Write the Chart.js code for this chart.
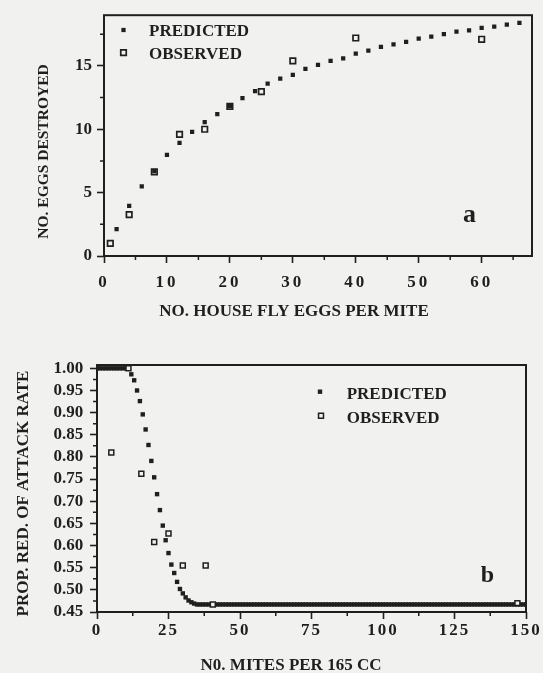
<!DOCTYPE html>
<html>
<head>
<meta charset="utf-8">
<title>Eggs destroyed and attack rate</title>
<script src="https://cdn.jsdelivr.net/npm/chart.js@4.4.1/dist/chart.umd.min.js"></script>
<style>
    body { margin: 0; background: #f1f1ef; }
    #page { position: relative; width: 543px; height: 673px; overflow: hidden; background: #f1f1ef; }
    canvas { position: absolute; left: 0; }
    #chart-a { top: 0; }
    #chart-b { top: 330px; }
</style>
</head>
<body>
<div id="page">
    <canvas id="chart-a" width="543" height="330"></canvas>
    <canvas id="chart-b" width="543" height="343"></canvas>
</div>
<script>
(function () {
    "use strict";

    // Panel a: eggs destroyed vs eggs offered per mite
    var eggsPredX = [2, 4, 6, 8, 10, 12, 14, 16, 18, 20, 22, 24, 26, 28, 30, 32, 34,
        36, 38, 40, 42, 44, 46, 48, 50, 52, 54, 56, 58, 60, 62, 64, 66];
    var eggsPredY = [2.13, 3.96, 5.5, 6.7, 7.97, 8.93, 9.79, 10.57, 11.2, 11.85, 12.45, 13.0, 13.6, 14.0, 14.3, 14.77, 15.08,
        15.4, 15.6, 15.96, 16.2, 16.5, 16.7, 16.9, 17.16, 17.3, 17.5, 17.7, 17.8, 18.0, 18.1, 18.26, 18.4];
    var eggsObsX = [1, 4, 8, 12, 16, 20, 25, 30, 40, 60];
    var eggsObsY = [1.0, 3.26, 6.64, 9.6, 10.0, 11.8, 12.97, 15.4, 17.2, 17.1];
    var eggsTicksX = [0, 10, 20, 30, 40, 50, 60];
    var eggsMinorX = [5, 15, 25, 35, 45, 55, 65];
    var eggsTicksY = [0, 5, 10, 15];
    var eggsMinorY = [2.5, 7.5, 12.5, 17.5];

    // Panel b: proportional reduction of attack rate vs mite density
    var attackPredX = [0, 1, 2, 3, 4, 5, 6, 7, 8, 9, 10, 11, 12, 13, 14, 15, 16, 17, 18, 19,
        20, 21, 22, 23, 24, 25, 26, 27, 28, 29, 30, 31, 32, 33, 34, 35, 36, 37, 38, 39,
        40, 41, 42, 43, 44, 45, 46, 47, 48, 49, 50, 51, 52, 53, 54, 55, 56, 57, 58, 59,
        60, 61, 62, 63, 64, 65, 66, 67, 68, 69, 70, 71, 72, 73, 74, 75, 76, 77, 78, 79,
        80, 81, 82, 83, 84, 85, 86, 87, 88, 89, 90, 91, 92, 93, 94, 95, 96, 97, 98, 99,
        100, 101, 102, 103, 104, 105, 106, 107, 108, 109, 110, 111, 112, 113, 114, 115, 116, 117, 118, 119,
        120, 121, 122, 123, 124, 125, 126, 127, 128, 129, 130, 131, 132, 133, 134, 135, 136, 137, 138, 139,
        140, 141, 142, 143, 144, 145, 146, 147, 148, 149, 150];
    var attackPredY = [1.0, 1.0, 1.0, 1.0, 1.0, 1.0, 1.0, 1.0, 1.0, 1.0, 1.0, 1.0,
        0.9865, 0.973, 0.950, 0.926, 0.896, 0.862, 0.827, 0.791, 0.754, 0.716, 0.680, 0.645,
        0.612, 0.583, 0.557, 0.538, 0.518, 0.502, 0.492, 0.483, 0.476, 0.472, 0.469,
        0.467, 0.467, 0.467, 0.467, 0.467, 0.467, 0.467, 0.467, 0.467, 0.467, 0.467, 0.467, 0.467, 0.467, 0.467, 0.467, 0.467, 0.467, 0.467, 0.467,
        0.467, 0.467, 0.467, 0.467, 0.467, 0.467, 0.467, 0.467, 0.467, 0.467, 0.467, 0.467, 0.467, 0.467, 0.467, 0.467, 0.467, 0.467, 0.467, 0.467,
        0.467, 0.467, 0.467, 0.467, 0.467, 0.467, 0.467, 0.467, 0.467, 0.467, 0.467, 0.467, 0.467, 0.467, 0.467, 0.467, 0.467, 0.467, 0.467, 0.467,
        0.467, 0.467, 0.467, 0.467, 0.467, 0.467, 0.467, 0.467, 0.467, 0.467, 0.467, 0.467, 0.467, 0.467, 0.467, 0.467, 0.467, 0.467, 0.467, 0.467,
        0.467, 0.467, 0.467, 0.467, 0.467, 0.467, 0.467, 0.467, 0.467, 0.467, 0.467, 0.467, 0.467, 0.467, 0.467, 0.467, 0.467, 0.467, 0.467, 0.467,
        0.467, 0.467, 0.467, 0.467, 0.467, 0.467, 0.467, 0.467, 0.467, 0.467, 0.467, 0.467, 0.467, 0.467, 0.467, 0.467];
    var attackObsX = [5, 11, 15.5, 20, 25, 30, 38, 40.5, 147];
    var attackObsY = [0.81, 1.0, 0.762, 0.608, 0.627, 0.555, 0.555, 0.467, 0.47];
    var attackTicksX = [0, 25, 50, 75, 100, 125, 150];
    var attackMinorX = [12.5, 37.5, 62.5, 87.5, 112.5, 137.5];
    var attackTicksY = [0.45, 0.50, 0.55, 0.60, 0.65, 0.70, 0.75, 0.80, 0.85, 0.90, 0.95, 1.00];
    var attackMinorY = [0.475, 0.525, 0.575, 0.625, 0.675, 0.725, 0.775, 0.825, 0.875, 0.925, 0.975];

    var ink = '#1f1f1f';
    var paper = '#f1f1ef';
    var serif = "'Liberation Serif', 'Times New Roman', serif";

    function pts(xs, ys) {
        return xs.map(function (x, i) { return {x: x, y: ys[i]}; });
    }

    // frame, minor ticks, legend, axis titles and panel letter
    var figurePlugin = {
        id: 'figure',
        afterDatasetsDraw: function (chart, args, opts) {
            // x tick labels are drawn after this (ticks.z = 1), slightly spaced like the print
            chart.ctx.letterSpacing = opts.spacing;
        },
        afterDraw: function (chart, args, opts) {
            var ctx = chart.ctx;
            var area = chart.chartArea;
            var sx = chart.scales.x, sy = chart.scales.y;
            ctx.save();
            ctx.letterSpacing = '0px';
            ctx.strokeStyle = ink;
            ctx.lineWidth = 2;
            ctx.strokeRect(area.left, area.top, area.right - area.left, area.bottom - area.top);

            ctx.lineWidth = 1.5;
            ctx.beginPath();
            opts.minorX.forEach(function (v) {
                var px = sx.getPixelForValue(v);
                ctx.moveTo(px, area.bottom);
                ctx.lineTo(px, area.bottom + 4);
            });
            opts.minorY.forEach(function (v) {
                var py = sy.getPixelForValue(v);
                ctx.moveTo(area.left, py);
                ctx.lineTo(area.left - 4, py);
            });
            ctx.stroke();

            opts.legend.forEach(function (item) {
                var ds = chart.data.datasets[item.ds];
                ctx.fillStyle = ds.pointBackgroundColor;
                ctx.strokeStyle = ds.pointBorderColor;
                ctx.lineWidth = ds.pointBorderWidth;
                Chart.helpers.drawPoint(ctx, {
                    pointStyle: 'rect', radius: ds.pointRadius, rotation: 0, borderWidth: ds.pointBorderWidth
                }, item.mx, item.my);
                ctx.fillStyle = ink;
                ctx.font = 'bold 17px ' + serif;
                ctx.textAlign = 'left';
                ctx.textBaseline = 'middle';
                ctx.fillText(ds.label, item.tx, item.ty);
            });

            ctx.fillStyle = ink;
            ctx.textAlign = 'center';
            ctx.textBaseline = 'middle';
            ctx.font = 'bold 17px ' + serif;
            ctx.fillText(opts.xTitle.text, opts.xTitle.x, opts.xTitle.y);
            ctx.save();
            ctx.translate(opts.yTitle.x, opts.yTitle.y);
            ctx.rotate(-Math.PI / 2);
            ctx.font = 'bold ' + opts.yTitle.size + 'px ' + serif;
            ctx.fillText(opts.yTitle.text, 0, 0);
            ctx.restore();

            ctx.textBaseline = 'alphabetic';
            ctx.font = 'bold ' + opts.panel.size + 'px ' + serif;
            ctx.fillText(opts.panel.text, opts.panel.x, opts.panel.y);
            ctx.restore();
        }
    };

    function axis(o) {
        return {
            type: 'linear',
            min: o.min,
            max: o.max,
            afterBuildTicks: function (s) {
                s.ticks = o.ticks.map(function (v) { return {value: v}; });
            },
            afterFit: o.fit,
            border: {display: false},
            grid: {drawOnChartArea: false, drawTicks: true, tickLength: 7, tickWidth: 1.6, tickColor: ink},
            ticks: {
                color: ink,
                padding: o.pad,
                autoSkip: false,
                maxRotation: 0,
                z: o.z || 0,
                font: {family: serif, size: 17, weight: 'bold'},
                callback: o.fmt || function (v) { return String(v); }
            }
        };
    }

    function baseOptions(pad) {
        return {
            responsive: false,
            maintainAspectRatio: false,
            animation: false,
            events: [],
            layout: {padding: pad},
            plugins: {legend: {display: false}, tooltip: {enabled: false}}
        };
    }

    // Panel a
    var optsA = baseOptions({left: 0, top: 13, right: 11, bottom: 0});
    optsA.scales = {
        x: axis({min: 0, max: 68, ticks: eggsTicksX, pad: 9, z: 1,
            fit: function (s) { s.height = 74; }}),
        y: axis({min: 0, max: 19, ticks: eggsTicksY, pad: 5,
            fit: function (s) { s.width = 104; }})
    };
    optsA.plugins.figure = {
        spacing: '3px',
        minorX: eggsMinorX,
        minorY: eggsMinorY,
        legend: [
            {ds: 1, mx: 123.5, my: 30, tx: 149, ty: 32},
            {ds: 0, mx: 123.5, my: 52.7, tx: 149, ty: 54.7}
        ],
        xTitle: {text: 'NO. HOUSE FLY EGGS PER MITE', x: 294, y: 312},
        yTitle: {text: 'NO. EGGS DESTROYED', x: 44, y: 151.5, size: 15.5},
        panel: {text: 'a', x: 469.5, y: 221.7, size: 26}
    };

    new Chart(document.getElementById('chart-a'), {
        type: 'scatter',
        data: {
            datasets: [{
                label: 'OBSERVED',
                data: pts(eggsObsX, eggsObsY),
                pointStyle: 'rect',
                pointRadius: 3.9,
                pointBorderWidth: 1.7,
                pointBorderColor: ink,
                pointBackgroundColor: 'rgba(0,0,0,0)'
            }, {
                label: 'PREDICTED',
                data: pts(eggsPredX, eggsPredY),
                pointStyle: 'rect',
                pointRadius: 3,
                pointBorderWidth: 0,
                pointBorderColor: ink,
                pointBackgroundColor: ink
            }]
        },
        options: optsA,
        plugins: [figurePlugin]
    });

    // Panel b
    var optsB = baseOptions({left: 0, top: 35, right: 17, bottom: 0});
    optsB.scales = {
        x: axis({min: 0, max: 150, ticks: attackTicksX, pad: 1.8, z: 1,
            fit: function (s) { s.height = 61; }}),
        y: axis({min: 0.45, max: 1.0075, ticks: attackTicksY, pad: 6.7,
            fmt: function (v) { return v.toFixed(2); },
            fit: function (s) { s.width = 97; }})
    };
    optsB.plugins.figure = {
        spacing: '2px',
        minorX: attackMinorX,
        minorY: attackMinorY,
        legend: [
            {ds: 1, mx: 320, my: 61.7, tx: 346.7, ty: 65},
            {ds: 0, mx: 321, my: 85.7, tx: 346.7, ty: 88.3}
        ],
        xTitle: {text: 'N0. MITES PER 165 CC', x: 291, y: 336},
        yTitle: {text: 'PROP. RED. OF ATTACK RATE', x: 23.5, y: 163.5, size: 17},
        panel: {text: 'b', x: 487.5, y: 251.7, size: 24}
    };

    new Chart(document.getElementById('chart-b'), {
        type: 'scatter',
        data: {
            datasets: [{
                label: 'OBSERVED',
                data: pts(attackObsX, attackObsY),
                pointStyle: 'rect',
                pointRadius: 3.5,
                pointBorderWidth: 1.5,
                pointBorderColor: ink,
                pointBackgroundColor: paper
            }, {
                label: 'PREDICTED',
                data: pts(attackPredX, attackPredY),
                pointStyle: 'rect',
                pointRadius: 3.1,
                pointBorderWidth: 0,
                pointBorderColor: ink,
                pointBackgroundColor: ink
            }]
        },
        options: optsB,
        plugins: [figurePlugin]
    });
})();
</script>
</body>
</html>
